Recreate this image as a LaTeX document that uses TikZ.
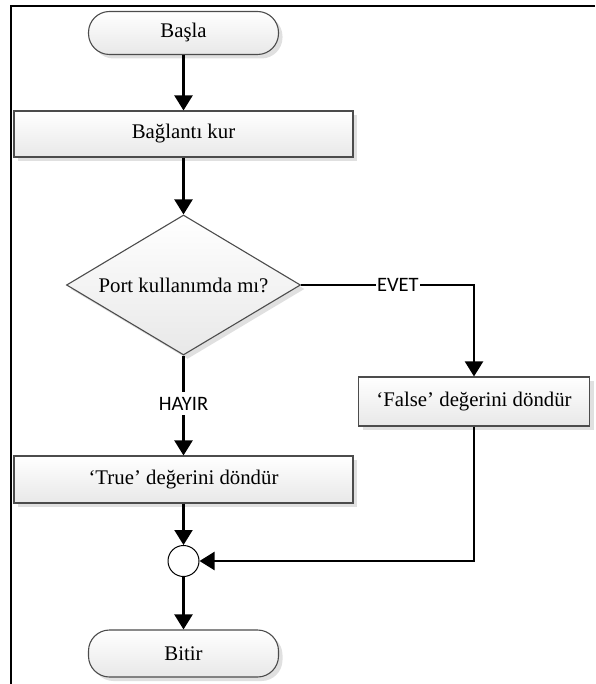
\documentclass[tikz,border=0pt]{standalone}
\usepackage{fontspec}
\setmainfont{Liberation Serif}
\newfontfamily\labelfont{Carlito}
\usetikzlibrary{shapes.geometric,arrows.meta,shadows}

\begin{document}
\begin{tikzpicture}[x=1pt,y=-1pt,
  box/.style={draw=black!70, line width=1.1pt, top color=white, bottom color=black!9,
    general shadow={fill=black!12, shadow xshift=4pt, shadow yshift=-4pt},
    font=\fontsize{20.8}{24}\selectfont, inner sep=0pt},
  proc/.style={box, rectangle, minimum width=339pt, minimum height=46pt},
  term/.style={box, rectangle, rounded corners=21pt, minimum width=190pt, minimum height=43pt},
  dec/.style={box, diamond, minimum width=234pt, minimum height=140pt},
  joint/.style={circle, draw=black, line width=1pt, fill=white, minimum size=31pt, inner sep=0pt},
  flow/.style={line width=2.2pt, -{Triangle[width=18pt,length=15pt]}},
  tag/.style={fill=white, inner xsep=1pt, inner ysep=5pt, font=\labelfont\fontsize{20.5}{24}\selectfont},
  caption/.style={font=\fontsize{20.8}{24}\selectfont, inner sep=0pt}]

  \useasboundingbox (0,0) rectangle (595,684);

  % outer frame
  \draw[line width=2pt] (10.5,684) -- (10.5,6) -- (595,6);

  % nodes
  \node[term] (start) at (183.5,33) {Başla};
  \node[proc] (conn) at (183.5,134) {Bağlantı kur};
  \node[dec] (q) at (183.5,285) {};
  \node[caption] (qtext) at (q.center) {Port kullanımda mı?};
  \node[proc, minimum width=231pt, minimum height=49pt] (nok) at (474,401.5) {‘False’ değerini döndür};
  \node[proc, minimum height=47pt] (ok) at (183.5,479.5) {‘True’ değerini döndür};
  \node[joint] (j) at (183.5,561) {};
  \node[term, minimum height=47pt] (stop) at (183.5,653.5) {Bitir};

  % connectors
  \draw[flow] (start.south) -- (conn.north);
  \draw[flow] (conn.south) -- (q.north);
  \draw[flow] (q.east) -- node[tag, pos=0.56] {EVET} (q.east -| nok.north) -- (nok.north);
  \draw[flow] (q.south) -- node[tag, pos=0.48] {HAYIR} (ok.north);
  \draw[flow] (ok.south) -- (j.north);
  \draw[flow] (nok.south) |- (j.east);
  \draw[flow] (j.south) -- (stop.north);
\end{tikzpicture}
\end{document}
